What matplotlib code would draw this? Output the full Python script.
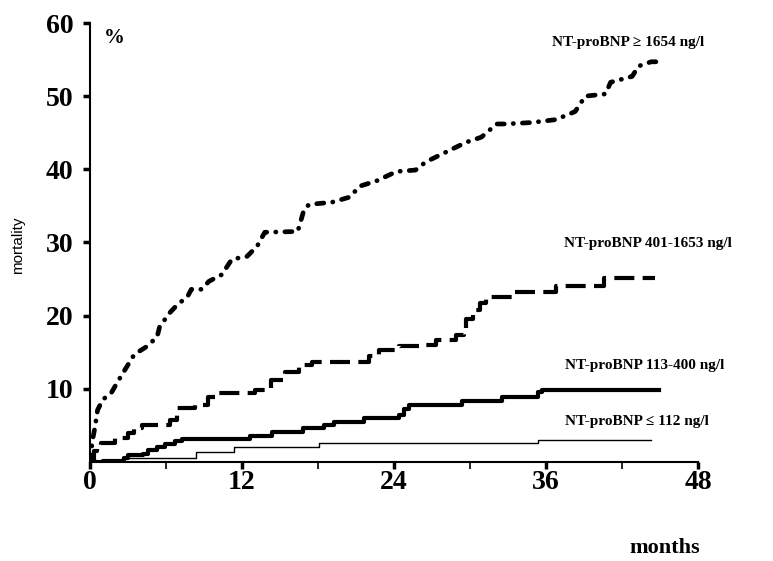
import matplotlib.pyplot as plt

# Kaplan-Meier style mortality curves (months, %)
t_high = [0, 0.2, 0.4, 0.6, 1.0, 1.7, 2.2, 2.9, 3.5, 4.5, 5.3, 5.5, 6.3, 6.9, 7.7, 8.0,
          8.8, 9.4, 10.4, 11.2, 12.4, 13.2, 13.8, 16.4, 16.9, 17.3, 19.1, 20.5, 21.3, 22.6,
          24.2, 25.7, 26.5, 27.8, 29.7, 30.9, 32.1, 32.8, 34.9, 36.8, 38.3, 39.1, 40.7,
          41.1, 42.8, 43.3, 44.3, 44.8]
m_high = [0, 3.0, 4.8, 7.1, 8.5, 9.5, 11.0, 13.0, 14.7, 15.8, 17.1, 18.5, 20.4, 21.5, 22.6, 23.6,
          23.6, 24.7, 25.6, 27.7, 28.1, 29.5, 31.4, 31.5, 34.5, 35.2, 35.5, 36.2, 37.7, 38.4,
          39.7, 39.9, 41.0, 42.1, 43.7, 44.4, 46.2, 46.2, 46.4, 46.8, 47.9, 50.0, 50.3,
          51.9, 52.7, 54.1, 54.7, 54.7]

t_mid_high = [0, 0.3, 0.55, 0.9, 2.0, 3.0, 3.5, 4.1, 6.3, 6.9, 8.3, 9.3, 10.1, 13.0, 14.3,
              15.4, 16.5, 17.5, 22.0, 22.8, 24.4, 26.5, 27.3, 28.9, 29.5, 29.7, 30.2, 30.8,
              31.3, 33.3, 34.9, 36.8, 40.6, 44.6]
m_mid_high = [0, 1.5, 2.1, 2.6, 3.3, 4.0, 4.7, 5.1, 5.8, 7.4, 7.8, 8.9, 9.4, 9.9, 11.2,
              12.3, 13.3, 13.7, 14.5, 15.3, 15.8, 16.0, 16.7, 17.4, 17.8, 19.5, 20.8, 21.7,
              22.5, 23.2, 23.3, 24.0, 25.2, 25.2]

t_mid_low = [0, 1.0, 2.7, 3.0, 4.2, 4.6, 5.3, 5.9, 6.7, 7.3, 12.6, 14.4, 16.8, 18.5, 19.3,
             21.6, 24.4, 24.8, 25.2, 29.4, 32.5, 35.4, 35.7, 44.9]
m_mid_low = [0, 0.2, 0.5, 0.9, 1.1, 1.6, 2.0, 2.4, 2.8, 3.2, 3.6, 4.1, 4.7, 5.1, 5.5,
             6.0, 6.4, 7.3, 7.8, 8.4, 8.9, 9.5, 9.9, 9.9]

t_low = [0, 2.5, 8.4, 11.4, 18.1, 35.4, 44.3]
m_low = [0, 0.5, 1.4, 2.1, 2.6, 3.0, 3.0]

labels = ['NT-proBNP \u2265 1654 ng/l', 'NT-proBNP 401-1653 ng/l',
          'NT-proBNP 113-400 ng/l', 'NT-proBNP \u2264 112 ng/l']
label_pos = [(36.5, 57.3), (37.4, 29.9), (37.5, 13.2), (37.5, 5.5)]

serif = 'Liberation Serif'

fig = plt.figure(figsize=(7.73, 5.61), dpi=100)
ax = fig.add_axes([0.1164, 0.1765, 0.7866, 0.7825])

# highest group drawn through the read points, dash-dot pattern
ax.plot(t_high, m_high, color='black', lw=3.4, dash_capstyle='round',
        linestyle=(0, (1.5, 1.9, 0.05, 1.9)))
ax.step(t_mid_high, m_mid_high, where='post', color='black', lw=3.0,
        linestyle=(0, (4.8, 2.0)))
ax.step(t_mid_low, m_mid_low, where='post', color='black', lw=3.0)
ax.step(t_low, m_low, where='post', color='black', lw=1.0)

for lab, (x, y) in zip(labels, label_pos):
    ax.text(x, y, lab, fontfamily=serif, fontweight='bold', fontsize=11,
            va='center', ha='left')

ax.text(1.1, 58.0, '%', fontfamily=serif, fontweight='bold', fontsize=15, va='center')

ax.set_xlim(0, 48)
ax.set_ylim(0, 60)
ax.set_xticks([0, 12, 24, 36, 48])
ax.set_xticks([6, 18, 30, 42], minor=True)
ax.set_yticks([10, 20, 30, 40, 50, 60])
ax.spines['top'].set_visible(False)
ax.spines['right'].set_visible(False)
ax.spines['left'].set_linewidth(1.5)
ax.spines['bottom'].set_linewidth(1.5)
ax.tick_params(axis='both', which='major', direction='out', length=5, width=2.5)
ax.tick_params(axis='x', which='major', pad=1)
ax.tick_params(axis='y', which='major', pad=7)
ax.tick_params(axis='x', which='minor', direction='out', length=5, width=1.2)
for t in ax.get_xticklabels() + ax.get_yticklabels():
    t.set_fontfamily(serif)
    t.set_fontweight('bold')
    t.set_fontsize(20)

fig.text(18 / 773, 1 - 245 / 561, 'mortality', rotation=90, fontsize=11,
         fontfamily='Liberation Sans', ha='center', va='center')
fig.text(665 / 773, 1 - 548 / 561, 'months', fontfamily=serif, fontweight='bold',
         fontsize=16, ha='center', va='center')

fig.savefig('out.png', dpi=100)
